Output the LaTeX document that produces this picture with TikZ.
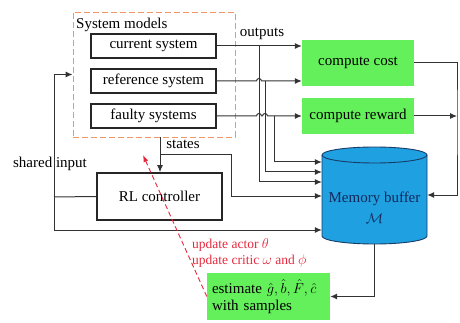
\documentclass[tikz,border=0pt]{standalone}
\usepackage{fontspec}
\setmainfont{Liberation Serif}
\usetikzlibrary{arrows.meta}
\definecolor{boxgreen}{RGB}{100,240,90}
\definecolor{memblue}{RGB}{30,160,225}
\definecolor{memedge}{RGB}{25,60,105}
\definecolor{memtext}{RGB}{20,40,90}
\definecolor{dashorange}{RGB}{240,150,100}
\definecolor{updred}{RGB}{230,40,60}
\begin{document}
\begin{tikzpicture}[x=1pt,y=-1pt,
    every node/.style={font=\fontsize{15}{17}\selectfont},
    sysbox/.style={draw=black!85,line width=1.6pt,minimum width=125pt,minimum height=24pt,inner sep=0pt},
    greenbox/.style={fill=boxgreen,minimum width=112pt,inner sep=0pt},
    wire/.style={line width=1pt,draw=black!80},
    arr/.style={wire,-{Latex[length=7pt,width=6pt]}}]
                \useasboundingbox (0,0) rectangle (460,323);
                %% system models
                \node[draw=dashorange,dash pattern=on 6pt off 3pt,line width=0.9pt,minimum width=162pt,minimum height=125pt] (sys) at (154,74.5) {};
                \node[anchor=west,inner sep=0pt] (systitle) at (76,25) {System models};
                \node[sysbox] (cur) at (153.5,46) {current system};
                \node[sysbox] (ref) at (153.5,81) {reference system};
                \node[sysbox] (faulty) at (153.5,116) {faulty systems};
                %% cost and reward
                \node[greenbox,minimum height=46pt] (cost) at (358,63) {compute cost};
                \node[greenbox,minimum height=36pt] (reward) at (358,116) {compute reward};
                \node[inner sep=0pt] (outputs) at (262,34) {outputs};
                %% controller
                \node[sysbox,minimum height=47pt] (rl) at (159.5,196.5) {RL controller};
                \node[inner sep=0pt] (states) at (183,144) {states};
                \node[inner sep=0pt] (shared) at (50,164) {shared input};
                %% memory buffer
                \node[minimum width=105pt,minimum height=97pt,inner sep=0pt] (mem) at (374.5,195.5) {};
                \draw[memedge,line width=0.9pt,fill=memblue] (322,155) -- (322,236)
                    arc[start angle=180,end angle=360,x radius=52.5pt,y radius=8pt] -- (427,155)
                    arc[start angle=0,end angle=180,x radius=52.5pt,y radius=8pt] -- cycle;
                \draw[memedge,line width=0.9pt] (322,155) arc[start angle=180,end angle=360,x radius=52.5pt,y radius=8pt];
                \node[align=center,text=memtext,inner sep=0pt] (memlabel) at (374.5,208) {Memory buffer\\[4pt]$\mathcal{M}$};
                %% estimate
                \node[greenbox,minimum width=123pt,minimum height=47pt,text width=113pt,align=left] (est) at (268.5,296.5) {estimate $\hat{g},\hat{b},\hat{F},\hat{c}$\\with samples};
                %% outputs
                \coordinate (o1) at (259,46);
                \coordinate (o2) at (265,81);
                \coordinate (o3) at (274,116);
                \draw[arr] (cur.east) -- (cur.east -| cost.west);
                \draw[arr] (ref.east) -- (256.5,81) arc[start angle=180,end angle=0,radius=2.5pt] -- (ref.east -| cost.west);
                \draw[arr] (faulty.east) -- (256.5,116) arc[start angle=180,end angle=0,radius=2.5pt] -- (262.5,116)
                    arc[start angle=180,end angle=0,radius=2.5pt] -- (reward.west);
                \draw[arr] (o1) |- (mem.west |- 0,182);
                \draw[arr] (o2) |- (mem.west |- 0,172);
                \draw[arr] (o3) |- (mem.west |- 0,162);
                %% states
                \coordinate (sb) at (160,155);
                \draw[arr] (sys.south -| sb) -- (rl.north -| sb);
                \draw[arr] (sb) -- (231,155) |- (mem.west |- 0,196);
                %% shared input loop
                \coordinate (si) at (54,197);
                \draw[wire] (rl.west) -- (si);
                \draw[arr] (si) |- (sys.west);
                \draw[arr] (si) |- (mem.west |- 0,230);
                %% cost and reward into buffer
                \coordinate (cr) at (457,116);
                \draw[arr] (cost.east) -| (cr) |- (mem.east |- 0,195);
                \draw[arr] (reward.east) -- (cr);
                %% samples
                \draw[arr] (mem.south) |- (est.east);
                %% updates
                \coordinate (upd) at (143,155);
                \draw[updred,line width=0.9pt,dash pattern=on 5pt off 3pt,-{Latex[length=7pt,width=5pt]}] (est.west) -- (upd);
                \node[anchor=west,inner sep=0pt,text=updred,font=\fontsize{13.5}{15}\selectfont] (upda) at (192,245) {update actor $\theta$};
                \node[anchor=west,inner sep=0pt,text=updred,font=\fontsize{13.5}{15}\selectfont] (updc) at (192,261) {update critic $\omega$ and $\phi$};
            \end{tikzpicture}
\end{document}
